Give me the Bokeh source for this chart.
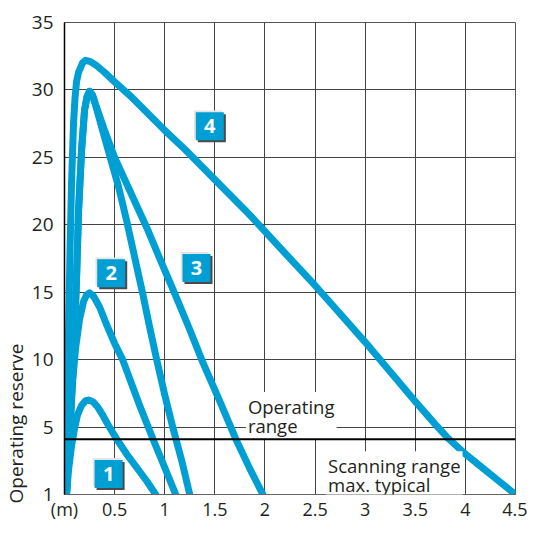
from bokeh.plotting import figure
from bokeh.models import Range1d, FixedTicker, Label, Span, ColumnDataSource, Title
from bokeh.transform import dodge
from bokeh.core.properties import value
from bokeh.embed import file_html
from bokeh.resources import INLINE

# ---- data ----
c1_x = [0.02, 0.04, 0.07, 0.10, 0.13, 0.17, 0.21, 0.24, 0.28, 0.33, 0.38, 0.44, 0.53, 0.62, 0.72, 0.82, 0.91]
c1_y = [0.0, 1.8, 3.6, 4.9, 5.9, 6.6, 6.95, 7.0, 6.9, 6.5, 5.9, 5.1, 4.0, 3.0, 2.0, 1.0, 0.0]

c2_x = [0.02, 0.04, 0.07, 0.11, 0.15, 0.19, 0.22, 0.25, 0.29, 0.35, 0.42, 0.50, 0.58, 0.67, 0.75, 0.83, 0.90, 1.00, 1.11]
c2_y = [0.0, 3.5, 7.5, 10.8, 13.0, 14.3, 14.8, 14.95, 14.7, 13.9, 12.6, 11.2, 10.0, 8.2, 6.6, 5.1, 3.8, 2.0, 0.0]

c3a_x = [0.02, 0.04, 0.06, 0.09, 0.12, 0.14, 0.17, 0.20, 0.225, 0.25, 0.28, 0.32, 0.38, 0.46, 0.54, 0.62, 0.70, 0.78, 0.85, 0.92, 1.00, 1.08, 1.17, 1.25]
c3a_y = [0.0, 3.0, 5.5, 10.0, 16.0, 21.0, 25.5, 28.5, 29.5, 29.9, 29.6, 28.6, 27.0, 24.9, 22.8, 20.3, 17.6, 14.9, 12.4, 10.0, 7.4, 5.0, 2.5, 0.0]

c3b_x = [0.02, 0.04, 0.06, 0.09, 0.12, 0.14, 0.17, 0.20, 0.225, 0.25, 0.28, 0.33, 0.40, 0.50, 0.66, 0.82, 0.99, 1.10, 1.24, 1.38, 1.55, 1.71, 1.85, 1.98]
c3b_y = [0.0, 3.0, 5.5, 10.0, 16.0, 21.0, 25.5, 28.5, 29.5, 29.9, 29.6, 28.5, 27.0, 25.0, 22.4, 19.8, 16.8, 14.9, 12.4, 9.8, 6.9, 4.1, 1.9, 0.0]

c4_x = [0.01, 0.025, 0.04, 0.055, 0.07, 0.09, 0.105, 0.12, 0.14, 0.18, 0.21, 0.26, 0.32, 0.40, 0.50, 0.65, 0.80, 1.00, 1.20, 1.40, 1.60, 1.80, 1.94, 2.20, 2.50, 2.75, 3.00, 3.25, 3.50, 3.70, 3.83, 4.00, 4.20, 4.35, 4.50]
c4_y = [0.0, 6.0, 12.0, 18.0, 23.0, 27.5, 29.4, 30.6, 31.3, 32.0, 32.2, 32.1, 31.8, 31.3, 30.6, 29.6, 28.5, 27.0, 25.6, 24.1, 22.6, 21.1, 20.0, 17.9, 15.5, 13.4, 11.3, 9.1, 6.9, 5.2, 4.15, 3.0, 1.8, 0.9, 0.0]

curve_labels = ["1", "2", "3", "4"]
curve_label_x = [0.44, 0.466, 1.317, 1.45]
curve_label_y = [1.52, 16.4, 16.8, 27.3]

operating_limit = 4.1

x_tick_values = [0, 0.5, 1, 1.5, 2, 2.5, 3, 3.5, 4, 4.5]
x_tick_labels = ["(m)", "0.5", "1", "1.5", "2", "2.5", "3", "3.5", "4", "4.5"]
y_tick_values = [0, 5, 10, 15, 20, 25, 30, 35]
y_tick_labels = ["1", "5", "10", "15", "20", "25", "30", "35"]

BLUE = "#009FD3"
FONT = "Open Sans"
TXT = "#231F20"

p = figure(width=527, height=524, x_range=Range1d(0, 4.5), y_range=Range1d(0, 35),
           output_backend="svg", toolbar_location=None,
           min_border_left=60, min_border_right=12, min_border_top=22, min_border_bottom=30)
p.background_fill_color = "white"
p.border_fill_color = "white"
p.outline_line_color = "#555555"
p.outline_line_width = 1

# axes
p.xaxis.ticker = FixedTicker(ticks=x_tick_values)
p.xaxis.major_label_overrides = dict(zip(x_tick_values, x_tick_labels))
p.yaxis.ticker = FixedTicker(ticks=y_tick_values)
p.yaxis.major_label_overrides = dict(zip(y_tick_values, y_tick_labels))
for ax in (p.xaxis[0], p.yaxis[0]):
    ax.major_tick_line_color = None
    ax.minor_tick_line_color = None
    ax.major_label_text_font = FONT
    ax.major_label_text_font_size = "18px"
    ax.major_label_text_color = TXT
p.yaxis.major_label_text_font_size = "19px"
p.xaxis.major_label_standoff = -4
p.yaxis.major_label_standoff = 5
p.xaxis.axis_line_color = "#666666"
p.xaxis.axis_line_width = 1
p.yaxis.axis_line_color = "black"
p.yaxis.axis_line_width = 1.5

p.xgrid.ticker = FixedTicker(ticks=x_tick_values[1:])
p.ygrid.ticker = FixedTicker(ticks=y_tick_values[1:])
for g in (p.xgrid[0], p.ygrid[0]):
    g.grid_line_color = "#444444"
    g.grid_line_width = 1

# y axis title, aligned to the bottom
p.add_layout(Title(text="Operating reserve", align="left", offset=-9, standoff=0,
                   text_font=FONT, text_font_size="19px", text_font_style="normal",
                   text_color=TXT), "left")

# text boxes (white background hides grid)
p.add_layout(Label(x=1.81, y=7.6, text="Operating\nrange", text_align="left", text_baseline="top",
                   text_font=FONT, text_font_size="18.5px", text_color=TXT, padding=2,
                   background_fill_color="white", text_line_height=0.75))
p.add_layout(Label(x=2.61, y=3.2, text="Scanning range\nmax. typical", text_align="left", text_baseline="top",
                   text_font=FONT, text_font_size="18.5px", text_color=TXT, padding=2,
                   background_fill_color="white", text_line_height=0.75))

p.add_layout(Span(location=operating_limit, dimension="width", line_color="black", line_width=2))

# curves
for xs, ys in ((c1_x, c1_y), (c2_x, c2_y), (c3a_x, c3a_y), (c3b_x, c3b_y), (c4_x, c4_y)):
    p.line(xs, ys, line_color=BLUE, line_width=7, line_cap="round", line_join="round")

# number badges
src = ColumnDataSource(dict(x=curve_label_x, y=curve_label_y, t=curve_labels))
p.rect(x=dodge("x", -0.018, range=p.x_range), y=dodge("y", 0.14, range=p.y_range), width=28, height=28,
       width_units="screen", height_units="screen", source=src, fill_color="#E4E4E4", line_color=None)
p.rect(x=dodge("x", 0.02, range=p.x_range), y=dodge("y", -0.15, range=p.y_range), width=28, height=28,
       width_units="screen", height_units="screen", source=src, fill_color="#4A4A4A", line_color=None)
p.rect(x="x", y="y", width=28, height=28, width_units="screen", height_units="screen",
       source=src, fill_color=BLUE, line_color=None)
p.text(x="x", y="y", text="t", source=src, text_align="center", text_baseline="middle",
       text_color="white", text_font=value(FONT), text_font_style="bold", text_font_size="20px")

open("out.html", "w").write(file_html(p, INLINE))
